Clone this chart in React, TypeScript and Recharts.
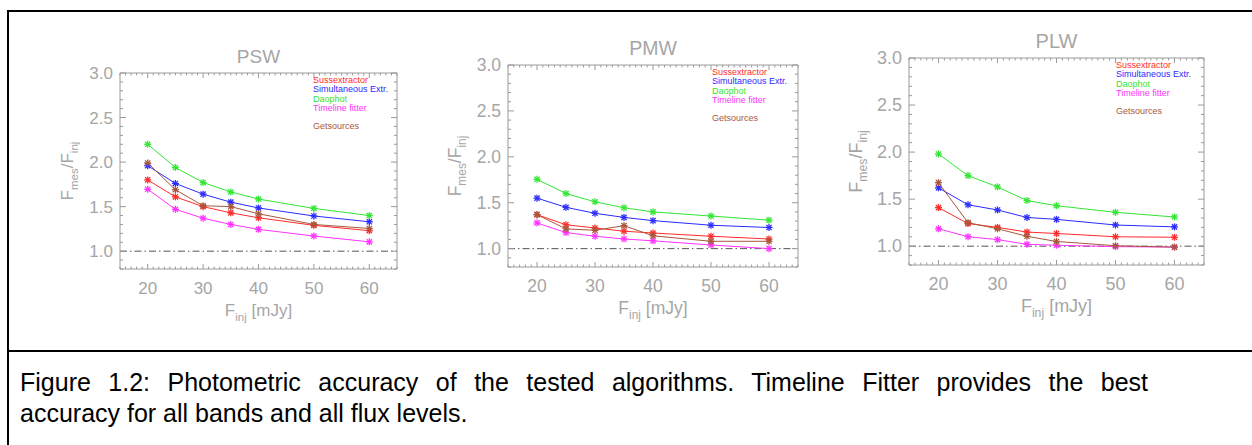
import React from 'react';
import { LineChart, Line, XAxis, YAxis, ReferenceLine, Legend } from 'recharts';

// injected flux levels (mJy)
const fluxLevels = [20, 25, 30, 35, 40, 50, 60];
const xTickLabels = [20, 30, 40, 50, 60];
const yTickLabels = [1.0, 1.5, 2.0, 2.5, 3.0];

const methodNames = ['Sussextractor', 'Simultaneous Extr.', 'Daophot', 'Timeline fitter', 'Getsources'];
const methodColors = ['#ff2b2b', '#2b2bff', '#33e633', '#ff33ff', '#a8583c'];

// PSW
const pswSuss = [1.80, 1.61, 1.50, 1.43, 1.375, 1.29, 1.23];
const pswSimul = [1.96, 1.76, 1.64, 1.55, 1.485, 1.395, 1.33];
const pswDao = [2.20, 1.94, 1.77, 1.665, 1.585, 1.48, 1.40];
const pswTimeline = [1.695, 1.47, 1.37, 1.30, 1.245, 1.17, 1.105];
const pswGet = [1.99, 1.69, 1.51, 1.50, 1.42, 1.30, 1.255];

// PMW
const pmwSuss = [1.37, 1.26, 1.225, 1.19, 1.17, 1.135, 1.105];
const pmwSimul = [1.55, 1.45, 1.385, 1.34, 1.305, 1.255, 1.23];
const pmwDao = [1.755, 1.60, 1.51, 1.445, 1.40, 1.355, 1.31];
const pmwTimeline = [1.28, 1.175, 1.135, 1.105, 1.085, 1.04, 1.0];
const pmwGet = [1.37, 1.215, 1.20, 1.25, 1.14, 1.08, 1.08];

// PLW
const plwSuss = [1.41, 1.24, 1.20, 1.15, 1.135, 1.10, 1.095];
const plwSimul = [1.62, 1.44, 1.385, 1.305, 1.285, 1.225, 1.205];
const plwDao = [1.98, 1.75, 1.63, 1.485, 1.43, 1.36, 1.31];
const plwTimeline = [1.185, 1.10, 1.07, 1.02, 1.01, 0.995, 0.99];
const plwGet = [1.675, 1.25, 1.185, 1.105, 1.05, 1.005, 0.99];

const captionLine1 = 'Figure 1.2: Photometric accuracy of the tested algorithms. Timeline Fitter provides the best';
const captionLine2 = 'accuracy for all bands and all flux levels.';

const X_DOMAIN: [number, number] = [15, 65];
const Y_DOMAIN: [number, number] = [0.8, 3.0];
const BOX = '#9a9a9a';
const TXT = '#a6a6a6';
const FONT = '"Liberation Sans", Arial, sans-serif';

const xMinor: number[] = [];
for (let v = X_DOMAIN[0]; v <= X_DOMAIN[1]; v += 1) xMinor.push(v);
const yMinor: number[] = [];
for (let i = 0; i <= 22; i++) yMinor.push(Math.round((Y_DOMAIN[0] + i * 0.1) * 10) / 10);

const isXMajor = (v: number) => xTickLabels.includes(v);
const isYMajor = (v: number) => yTickLabels.some((t) => Math.abs(t - v) < 1e-6);

function buildRows(series: number[][]) {
  return fluxLevels.map((f, i) => {
    const row: Record<string, number> = { flux: f };
    series.forEach((s, k) => (row['s' + k] = s[i]));
    return row;
  });
}

const Star = (props: any) => {
  const { cx, cy, stroke } = props;
  if (cx == null || cy == null) return null;
  const r = 3.5;
  const d = 2.6;
  return (
    <g stroke={stroke} strokeWidth={1.3}>
      <line x1={cx - r} y1={cy} x2={cx + r} y2={cy} />
      <line x1={cx} y1={cy - r} x2={cx} y2={cy + r} />
      <line x1={cx - d} y1={cy - d} x2={cx + d} y2={cy + d} />
      <line x1={cx - d} y1={cy + d} x2={cx + d} y2={cy - d} />
    </g>
  );
};

const BottomTick = (props: any) => {
  const { x, y, payload, fs } = props;
  const major = isXMajor(payload.value);
  return (
    <g>
      <line x1={x} x2={x} y1={y} y2={y - (major ? 5 : 2.5)} stroke={BOX} />
      {major && (
        <text x={x} y={y + 25} textAnchor="middle" fill={TXT} fontSize={fs} fontFamily={FONT}>
          {payload.value}
        </text>
      )}
    </g>
  );
};

const TopTick = (props: any) => {
  const { x, y, payload } = props;
  const major = isXMajor(payload.value);
  return <line x1={x} x2={x} y1={y} y2={y + (major ? 5 : 2.5)} stroke={BOX} />;
};

const LeftTick = (props: any) => {
  const { x, y, payload, fs } = props;
  const major = isYMajor(payload.value);
  return (
    <g>
      <line x1={x} x2={x + (major ? 6 : 3)} y1={y} y2={y} stroke={BOX} />
      {major && (
        <text x={x - 7} y={y + 6} textAnchor="end" fill={TXT} fontSize={fs} fontFamily={FONT}>
          {payload.value.toFixed(1)}
        </text>
      )}
    </g>
  );
};

const RightTick = (props: any) => {
  const { x, y, payload } = props;
  const major = isYMajor(payload.value);
  return <line x1={x} x2={x - (major ? 6 : 3)} y1={y} y2={y} stroke={BOX} />;
};

interface PanelProps {
  title: string;
  series: number[][];
  plotLeft: number;
  plotTop: number;
  plotW: number;
  plotH: number;
  legendDx: number;
  legendDy: number;
  fs: number;
}

const ML = 90;
const MT = 40;
const MB = 60;
const MR = 10;

function Panel({ title, series, plotLeft, plotTop, plotW, plotH, legendDx, legendDy, fs }: PanelProps) {
  const rows = buildRows(series);
  const legendContent = (p: any) => {
    const items = [...(p.payload || [])].sort(
      (a: any, b: any) => methodNames.indexOf(a.value) - methodNames.indexOf(b.value)
    );
    return (
      <div style={{ fontFamily: FONT, fontSize: 9, lineHeight: '9.3px', whiteSpace: 'nowrap' }}>
        {items.map((it: any, i: number) => (
          <div key={i} style={{ color: it.color, marginTop: i === 4 ? 9 : 0 }}>
            {it.value}
          </div>
        ))}
      </div>
    );
  };
  return (
    <div style={{ position: 'absolute', left: plotLeft - ML, top: plotTop - MT }}>
      <LineChart
        width={plotW + ML + MR}
        height={plotH + MT + MB}
        data={rows}
        margin={{ top: MT - 1, right: MR - 1, bottom: 0, left: 0 }}
      >
        <XAxis
          dataKey="flux"
          type="number"
          domain={X_DOMAIN}
          ticks={xMinor}
          interval={0}
          height={MB}
          tickSize={0}
          tickMargin={0}
          tickLine={false}
          axisLine={{ stroke: BOX }}
          tick={<BottomTick fs={fs} />}
          label={(lp: any) => {
            const vb = lp.viewBox;
            const cx = vb.x + vb.width / 2;
            const cy = vb.y + 47;
            return (
              <text x={cx} y={cy} textAnchor="middle" fill={TXT} fontSize={fs} fontFamily={FONT}>
                F<tspan dy={5} fontSize={fs * 0.68}>inj</tspan>
                <tspan dy={-5}> [mJy]</tspan>
              </text>
            );
          }}
        />
        <XAxis
          xAxisId="top"
          dataKey="flux"
          orientation="top"
          type="number"
          domain={X_DOMAIN}
          ticks={xMinor}
          interval={0}
          height={1}
          tickSize={0}
          tickMargin={0}
          tickLine={false}
          axisLine={{ stroke: BOX }}
          tick={<TopTick />}
          label={(lp: any) => {
            const vb = lp.viewBox;
            return (
              <text
                x={vb.x + vb.width / 2}
                y={vb.y - 9}
                textAnchor="middle"
                fill={TXT}
                fontSize={fs + 2}
                fontFamily={FONT}
              >
                {title}
              </text>
            );
          }}
        />
        <YAxis
          type="number"
          domain={Y_DOMAIN}
          ticks={yMinor}
          interval={0}
          width={ML}
          tickSize={0}
          tickMargin={0}
          tickLine={false}
          axisLine={{ stroke: BOX }}
          tick={<LeftTick fs={fs} />}
          label={(lp: any) => {
            const vb = lp.viewBox;
            const cx = vb.x + vb.width - 47;
            const cy = vb.y + vb.height / 2;
            return (
              <text
                x={cx}
                y={cy}
                textAnchor="middle"
                fill={TXT}
                fontSize={fs}
                fontFamily={FONT}
                transform={`rotate(-90, ${cx}, ${cy})`}
              >
                F<tspan dy={5} fontSize={fs * 0.68}>mes</tspan>
                <tspan dy={-5}>/F</tspan>
                <tspan dy={5} fontSize={fs * 0.68}>inj</tspan>
              </text>
            );
          }}
        />
        <YAxis
          yAxisId="right"
          orientation="right"
          type="number"
          domain={Y_DOMAIN}
          ticks={yMinor}
          interval={0}
          width={1}
          tickSize={0}
          tickMargin={0}
          tickLine={false}
          axisLine={{ stroke: BOX }}
          tick={<RightTick />}
        />
        <ReferenceLine y={1} stroke="#555" strokeDasharray="7 3 1.5 3" strokeWidth={1} />
        {methodNames.map((name, k) => (
          <Line
            key={name}
            dataKey={'s' + k}
            name={name}
            stroke={methodColors[k]}
            strokeWidth={1}
            dot={<Star />}
            activeDot={false}
            isAnimationActive={false}
            xAxisId={k === 4 ? 'top' : 0}
            yAxisId={k === 4 ? 'right' : 0}
          />
        ))}
        <Legend
          layout="horizontal"
          verticalAlign="middle"
          align="center"
          content={legendContent}
          wrapperStyle={{
            left: ML + plotW - legendDx,
            top: MT + legendDy,
            width: 'auto',
            height: 'auto',
          }}
        />
      </LineChart>
    </div>
  );
}

export default function App() {
  return (
    <div style={{ position: 'absolute', left: 0, top: 0, width: 1252, height: 445, overflow: 'hidden', background: '#fff' }}>
      <div
        style={{
          position: 'absolute',
          left: 7,
          top: 10,
          width: 1300,
          height: 460,
          borderTop: '2px solid #000',
          borderLeft: '2px solid #000',
        }}
      />
      <div style={{ position: 'absolute', left: 7, top: 350, width: 1300, height: 2, background: '#000' }} />
      <Panel
        title="PSW"
        series={[pswSuss, pswSimul, pswDao, pswTimeline, pswGet]}
        plotLeft={120}
        plotTop={73}
        plotW={277}
        plotH={196}
        legendDx={84}
        legendDy={3}
        fs={17}
      />
      <Panel
        title="PMW"
        series={[pmwSuss, pmwSimul, pmwDao, pmwTimeline, pmwGet]}
        plotLeft={508}
        plotTop={65}
        plotW={290}
        plotH={202}
        legendDx={86}
        legendDy={3}
        fs={17.5}
      />
      <Panel
        title="PLW"
        series={[plwSuss, plwSimul, plwDao, plwTimeline, plwGet]}
        plotLeft={909}
        plotTop={58}
        plotW={295}
        plotH={207}
        legendDx={88}
        legendDy={3}
        fs={18}
      />
      <div
        style={{
          position: 'absolute',
          left: 20,
          top: 367,
          fontFamily: FONT,
          fontSize: 25,
          lineHeight: '31px',
          color: '#000',
          whiteSpace: 'nowrap',
        }}
      >
        <div style={{ width: 1128, textAlign: 'justify', textAlignLast: 'justify', whiteSpace: 'normal' }}>
          {captionLine1}
        </div>
        <div>{captionLine2}</div>
      </div>
    </div>
  );
}
